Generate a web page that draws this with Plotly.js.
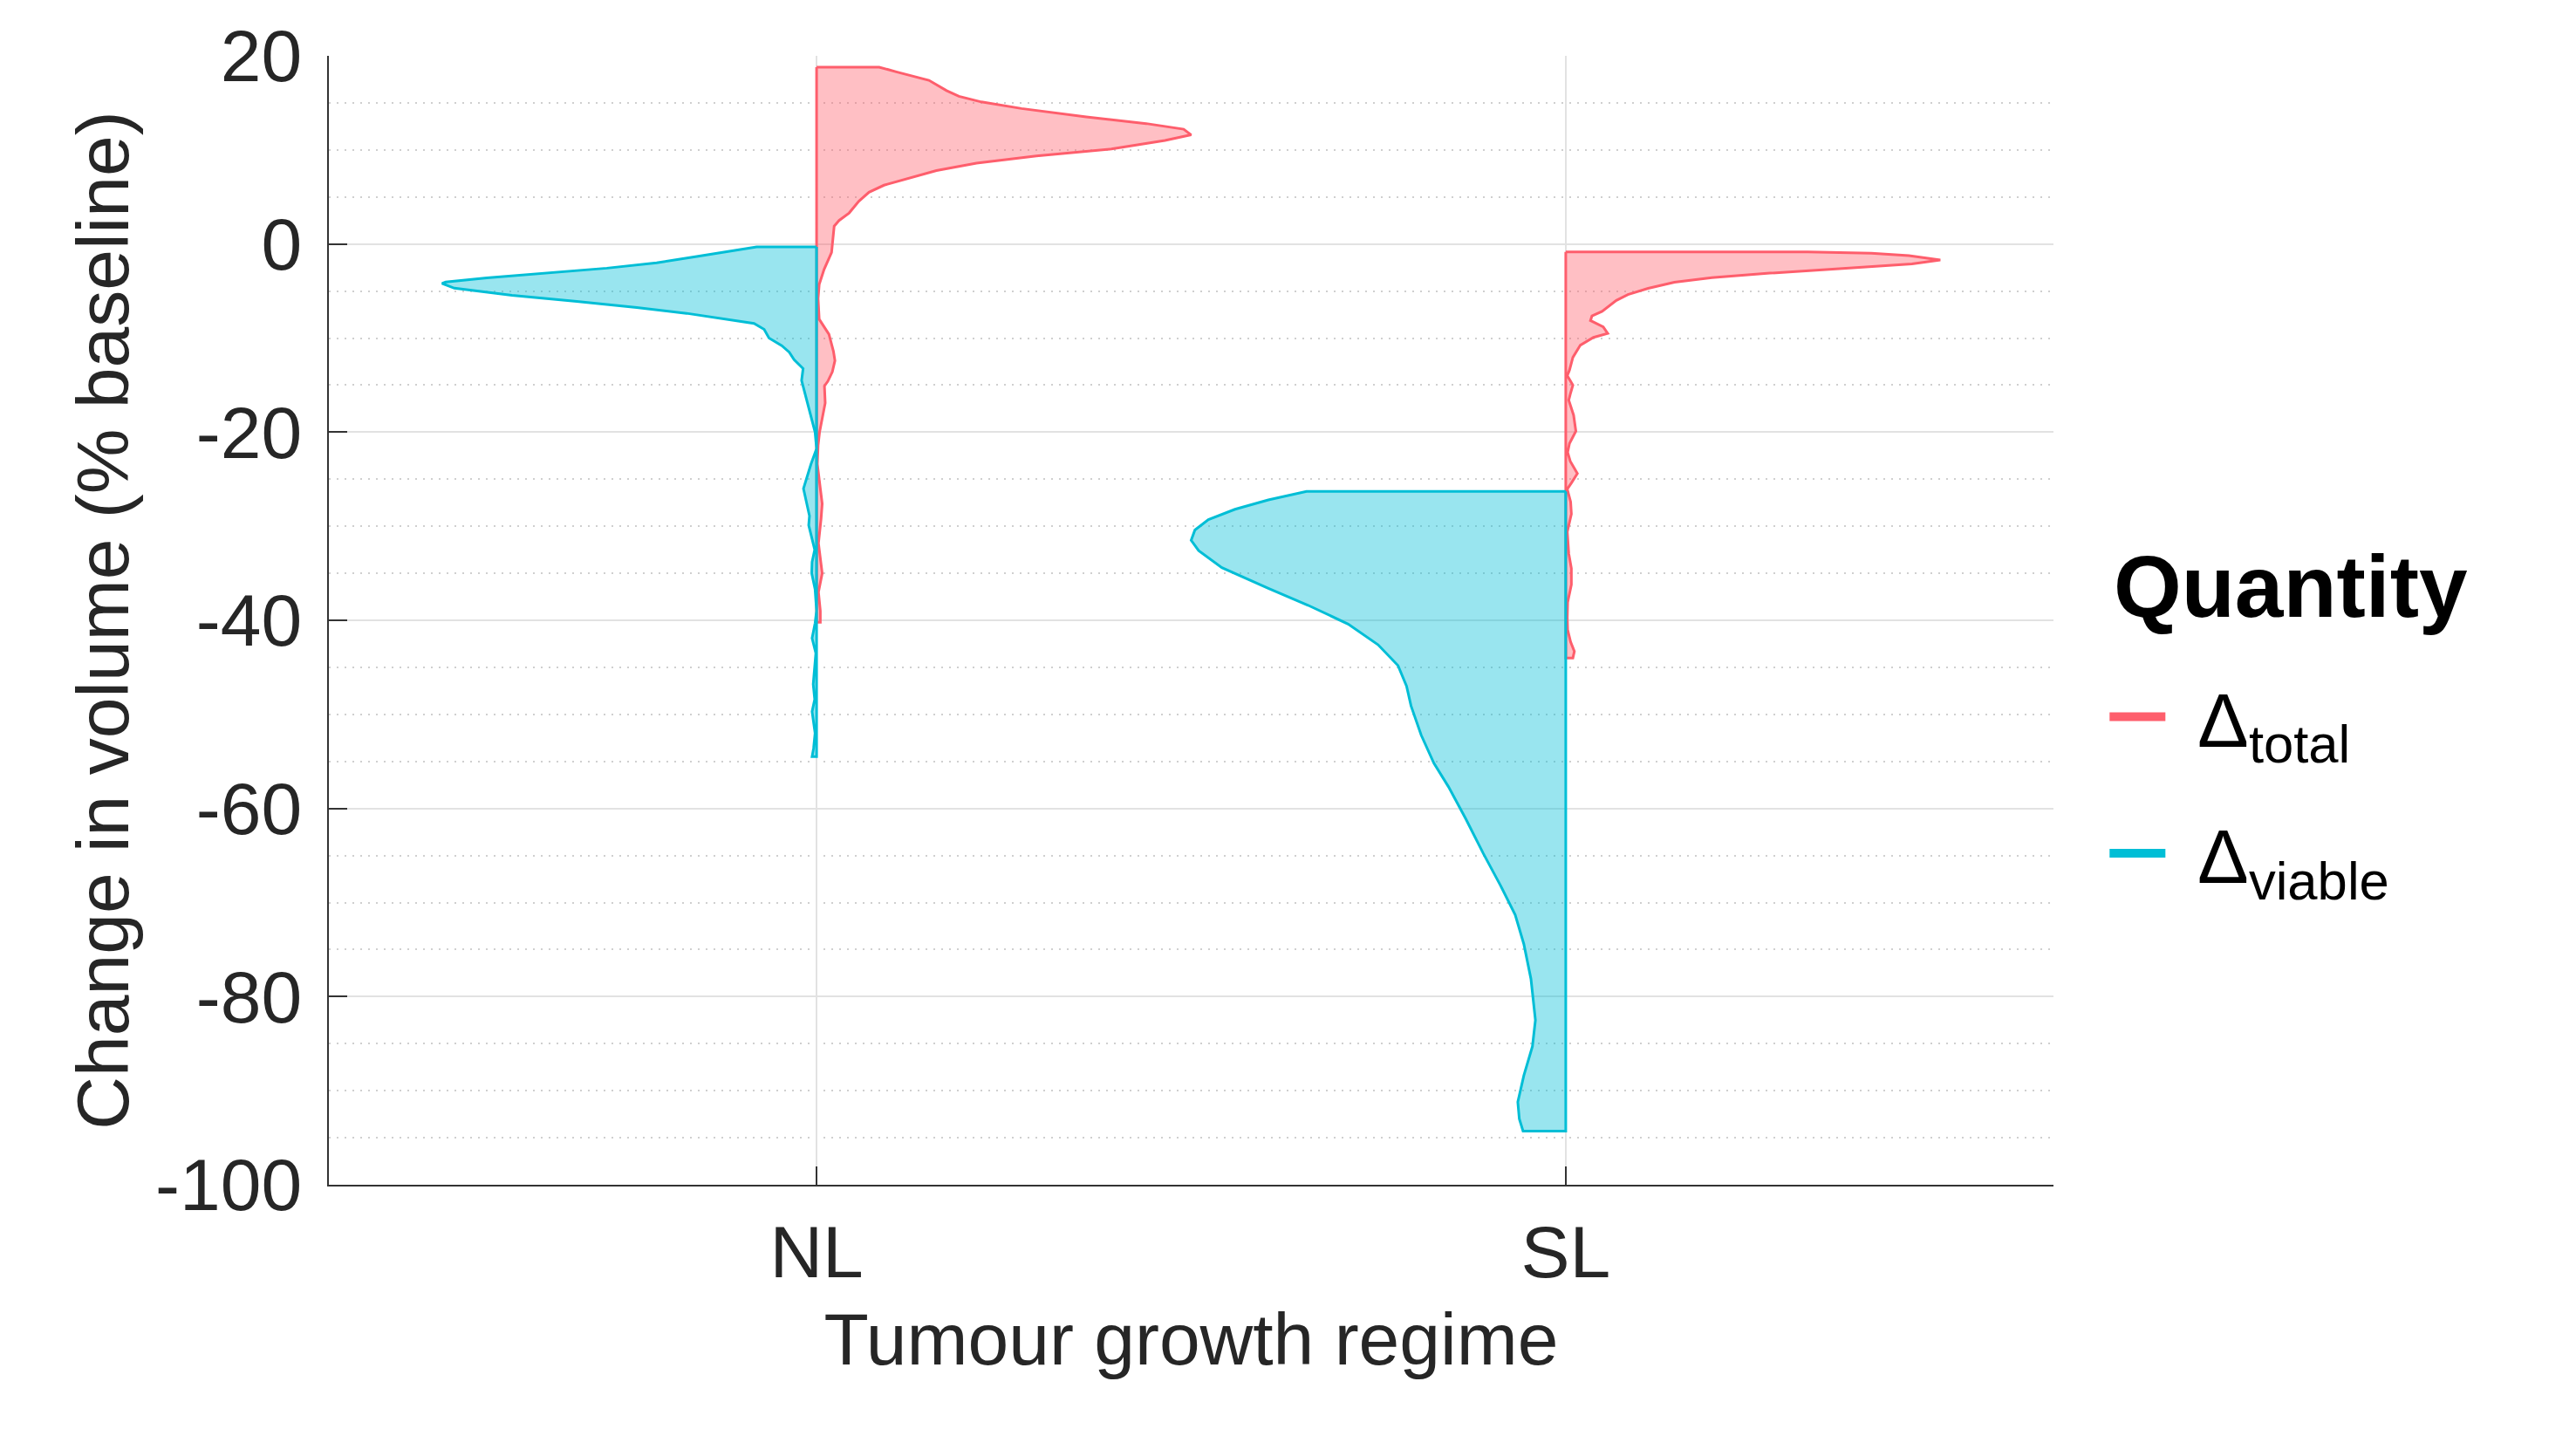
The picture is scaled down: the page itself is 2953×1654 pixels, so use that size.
<!DOCTYPE html>
<html>
<head>
<meta charset="utf-8">
<script src="https://cdn.plot.ly/plotly-3.0.1.min.js"></script>
<style>
  html, body { margin: 0; padding: 0; background: #fff; }
  #chart { width: 2953px; height: 1654px; }
</style>
</head>
<body>
<div id="chart"></div>
<script>
// categories on the x axis
var regimes = ["NL", "SL"];

// density profiles: y = change in volume (% baseline),
// d = density relative to the widest point of that violin
var nlTotalY = [18.8, 18.3, 17.4, 16.3, 15.7, 15.1, 14.4, 13.5, 12.8, 12.2, 11.6, 11.0, 10.1, 9.35, 8.6, 7.8, 6.9, 6.25, 5.5, 4.55, 3.3, 2.5, 1.9, 0.4, -0.9, -2.7, -4.3, -5.8, -8.0, -9.6, -11.4, -12.4, -13.6, -14.6, -15.1, -16.9, -18.8, -20, -21.4, -23.4, -26, -27.6, -29.2, -31.8, -35, -37, -39, -40.2];
var nlTotalD = [0.167, 0.213, 0.30, 0.347, 0.38, 0.44, 0.547, 0.72, 0.88, 0.98, 1.0, 0.93, 0.787, 0.587, 0.427, 0.32, 0.24, 0.18, 0.14, 0.113, 0.087, 0.06, 0.047, 0.044, 0.04, 0.02, 0.007, 0.004, 0.007, 0.033, 0.045, 0.049, 0.042, 0.03, 0.021, 0.023, 0.013, 0.008, 0.004, 0.002, 0.010, 0.015, 0.012, 0.005, 0.015, 0.005, 0.010, 0.010];

var nlViableY = [-0.3, -1.33, -2.0, -2.57, -3.2, -3.6, -4.05, -4.2, -4.7, -5.45, -6.1, -6.75, -7.37, -8.0, -8.45, -9.07, -10.0, -10.8, -11.5, -12.3, -13.25, -14.5, -16.0, -17.6, -18.8, -20, -21.75, -23.4, -26, -27.6, -28.9, -29.9, -31.2, -32.5, -33.8, -35, -36.7, -39, -40.3, -41.9, -43.5, -46.8, -48.4, -49.7, -52, -53.6, -54.5];
var nlViableD = [0.16, 0.32, 0.427, 0.56, 0.747, 0.88, 0.99, 1.0, 0.967, 0.813, 0.64, 0.48, 0.347, 0.24, 0.167, 0.14, 0.127, 0.093, 0.073, 0.06, 0.036, 0.04, 0.03, 0.02, 0.011, 0.004, 0.0, 0.015, 0.035, 0.027, 0.019, 0.021, 0.013, 0.005, 0.012, 0.013, 0.004, 0.0, 0.004, 0.012, 0.002, 0.009, 0.005, 0.012, 0.004, 0.008, 0.012];

var slTotalY = [-0.85, -0.98, -1.24, -1.69, -2.12, -2.6, -3.1, -3.58, -4.07, -4.72, -5.37, -6.0, -6.68, -7.17, -7.65, -8.14, -8.8, -9.5, -9.93, -10.75, -12.05, -13.4, -14, -15, -15.96, -16.6, -18.2, -19.9, -21.2, -22.15, -23.1, -24.4, -25.4, -26.05, -27.4, -28.7, -30.6, -32.9, -34.5, -36.2, -38.1, -39.7, -41.0, -42.3, -43.3, -44.0];
var slTotalD = [0.646, 0.816, 0.916, 1.0, 0.924, 0.739, 0.545, 0.39, 0.29, 0.22, 0.166, 0.135, 0.112, 0.097, 0.07, 0.066, 0.10, 0.112, 0.074, 0.039, 0.019, 0.01, 0.004, 0.019, 0.012, 0.008, 0.021, 0.027, 0.01, 0.005, 0.012, 0.031, 0.015, 0.004, 0.013, 0.015, 0.004, 0.008, 0.015, 0.015, 0.005, 0.004, 0.005, 0.013, 0.023, 0.019];

var slViableY = [-26.3, -27.2, -28.2, -29.3, -30.4, -31.5, -32.6, -34.4, -36.6, -38.4, -40.4, -42.6, -44.8, -47, -49.1, -52.2, -55.2, -57.7, -61.1, -64.8, -68.2, -71.3, -74.4, -78.1, -82.5, -85.3, -88.4, -91.2, -93.0, -94.3];
var slViableD = [0.692, 0.794, 0.883, 0.954, 0.99, 1.0, 0.98, 0.918, 0.794, 0.688, 0.581, 0.501, 0.448, 0.425, 0.413, 0.386, 0.352, 0.313, 0.267, 0.22, 0.174, 0.135, 0.112, 0.093, 0.081, 0.089, 0.112, 0.128, 0.124, 0.114];

var yTicks = [-100, -80, -60, -40, -20, 0, 20];
var yTickText = ["-100", "-80", "-60", "-40", "-20", "0", "20"];

(function () {
  var HALF_WIDTH = 0.5;
  var RED = "#fe5e6c", RED_FILL = "rgba(254,94,108,0.4)";
  var TEAL = "#00bed6", TEAL_FILL = "rgba(0,190,214,0.4)";
  var INK = "#262626";
  var FONT = "Liberation Sans, Arial, Helvetica, sans-serif";

  // one half of a split violin; side = +1 draws right of the category, -1 left
  function halfViolin(ys, ds, catIndex, side, color, fill) {
    var c = catIndex + 1;
    var xs = [c], yy = [ys[0]];
    ys.forEach(function (y, i) {
      xs.push(c + side * HALF_WIDTH * ds[i]);
      yy.push(y);
    });
    xs.push(c, c);
    yy.push(ys[ys.length - 1], ys[0]);
    return {
      type: "scatter",
      mode: "lines",
      x: xs,
      y: yy,
      fill: "toself",
      fillcolor: fill,
      line: { color: color, width: 3 },
      showlegend: false,
      hoverinfo: "skip",
    };
  }

  function legendOnly(name, color, group) {
    return {
      type: "scatter",
      mode: "lines",
      x: [null],
      y: [null],
      name: name,
      legendgroup: group,
      line: { color: color, width: 12 },
    };
  }

  var traces = [
    halfViolin(nlTotalY, nlTotalD, 0, 1, RED, RED_FILL),
    halfViolin(slTotalY, slTotalD, 1, 1, RED, RED_FILL),
    halfViolin(nlViableY, nlViableD, 0, -1, TEAL, TEAL_FILL),
    halfViolin(slViableY, slViableD, 1, -1, TEAL, TEAL_FILL),
    legendOnly("\u00a0\u200aΔ<sub>total</sub>", RED, "total"),
    legendOnly("\u00a0\u200aΔ<sub>viable</sub>", TEAL, "viable"),
  ];

  var layout = {
    width: 2953,
    height: 1654,
    margin: { l: 377, r: 599, t: 64, b: 296 },
    paper_bgcolor: "#fff",
    plot_bgcolor: "#fff",
    font: { family: FONT, size: 84, color: INK },
    showlegend: true,
    legend: {
      x: 1.03,
      xanchor: "left",
      y: 0.354,
      yanchor: "middle",
      itemwidth: 64,
      tracegroupgap: 39,
      font: { family: FONT, size: 88, color: "#000" },
      bgcolor: "rgba(0,0,0,0)",
    },
    annotations: [
      {
        text: "<b>Quantity</b>",
        xref: "paper",
        yref: "paper",
        x: 1.034,
        y: 0.53,
        xanchor: "left",
        yanchor: "middle",
        showarrow: false,
        font: { family: FONT, size: 100, color: "#000" },
      },
    ],
    xaxis: {
      range: [0.349, 2.651],
      tickmode: "array",
      tickvals: regimes.map(function (r, i) { return i + 1; }),
      ticktext: regimes,
      showgrid: true,
      gridcolor: "#e2e2e2",
      gridwidth: 2,
      zeroline: false,
      showline: true,
      linecolor: "#333",
      linewidth: 2,
      ticks: "inside",
      ticklen: 21,
      tickwidth: 2,
      tickcolor: "#333",
      ticklabelstandoff: 3,
      tickfont: { family: FONT, size: 84, color: INK },
      title: { text: "Tumour growth regime", font: { family: FONT, size: 84, color: INK }, standoff: 24 },
      automargin: false,
      fixedrange: true,
    },
    yaxis: {
      range: [-100, 20],
      tickmode: "array",
      tickvals: yTicks,
      ticktext: yTickText,
      showgrid: true,
      gridcolor: "#e2e2e2",
      gridwidth: 2,
      zeroline: false,
      showline: true,
      linecolor: "#333",
      linewidth: 2,
      ticks: "inside",
      ticklen: 21,
      tickwidth: 2,
      tickcolor: "#333",
      ticklabelstandoff: 12,
      tickfont: { family: FONT, size: 84, color: INK },
      minor: { dtick: 5, showgrid: true, gridcolor: "#cfcfcf", gridwidth: 2, griddash: "2px,7px", ticks: "" },
      title: { text: "Change in volume (% baseline)", font: { family: FONT, size: 84, color: INK }, standoff: 3 },
      automargin: false,
      fixedrange: true,
    },
  };

  Plotly.newPlot("chart", traces, layout, { displayModeBar: false, staticPlot: true });
})();
</script>
</body>
</html>
